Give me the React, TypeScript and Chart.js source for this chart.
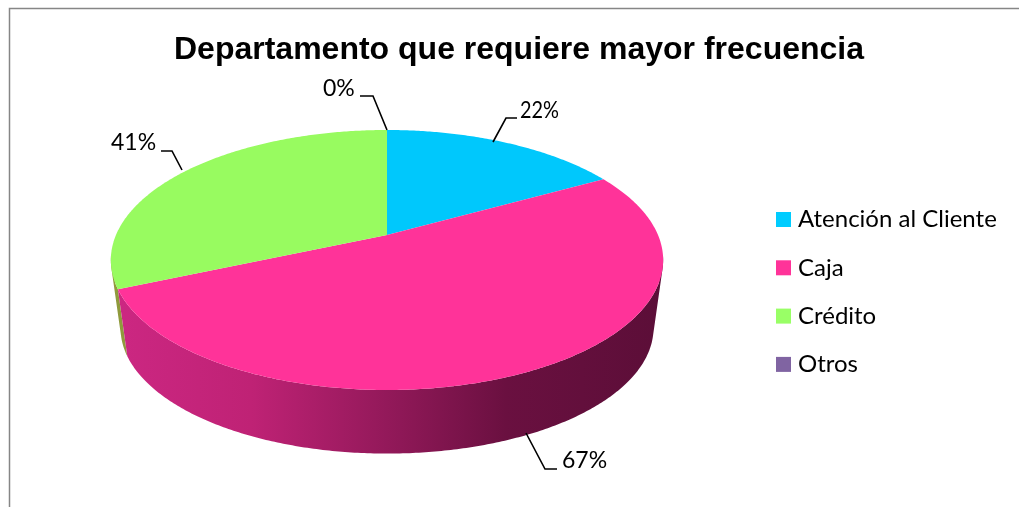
import React, { useEffect, useRef } from "react";
import { Chart, registerables, layouts } from "chart.js";

Chart.register(...registerables);

const categories = ["Atención al Cliente", "Caja", "Crédito", "Otros"];
const values = [22, 67, 41, 0];
const faceColors = ["#00C8FC", "#FF3399", "#98FB60", "#8064A2"];
const swatchColors = ["#00CCFF", "#FF3399", "#99FF66", "#8064A2"];
const sideStops: [number, string][][] = [
  [[0, "#006a88"], [1, "#006a88"]],
  [[0, "#cc2782"], [0.25, "#bf2275"], [0.5, "#93195a"], [0.72, "#6a1040"], [1, "#5c0e38"]],
  [[0, "#8f9a3c"], [1, "#8f9a3c"]],
  [[0, "#4a3a60"], [1, "#4a3a60"]],
];

// Leader lines for the value labels: polyline vertices, text anchor, fitted text width.
const leaders: { path: [number, number][]; text: [number, number]; fit: number }[] = [
  { path: [[493, 142], [506, 118], [517, 118]], text: [520, 111], fit: 39 },
  { path: [[526, 433], [545, 469], [557, 469]], text: [562, 461], fit: 46 },
  { path: [[182, 170], [172, 151], [161, 151]], text: [111, 143], fit: 46 },
  { path: [[387, 130], [373, 96], [360, 96]], text: [323, 89], fit: 33 },
];

const TEXT_FONT = "Lato";
const VALUE_SIZE = 23;
const LEGEND_SIZE = 24;
const LEGEND = { x: 776, firstY: 219.5, step: 48.3, box: 15, gap: 7 };

// Perspective tilt of the disc, as ratios of the arc element's radius.
const TILT = 0.1923;
const RX = 1.6365;
const RY = 0.756;
const DEPTH = 0.4167;
const BASE_SCALE = 0.965;
// Walls exist only on the near part of the rim, where they can be seen.
const NEAR_RIM = 0.15;

type Pt = [number, number];

function project(el: any, angle: number, base: boolean): Pt {
  const u = Math.cos(angle);
  const v = Math.sin(angle);
  const w = 1 - TILT * v;
  const s = base ? BASE_SCALE : 1;
  const r = el.outerRadius;
  return [
    el.x + (s * RX * r * u) / w,
    el.y + (base ? DEPTH * r : 0) + (s * RY * r * v) / w,
  ];
}

function angleSteps(el: any): number[] {
  const out: number[] = [];
  const n = Math.max(2, Math.ceil((el.endAngle - el.startAngle) / 0.01));
  for (let i = 0; i <= n; i++) {
    out.push(el.startAngle + ((el.endAngle - el.startAngle) * i) / n);
  }
  return out;
}

function addPolygon(ctx: CanvasRenderingContext2D, pts: Pt[]) {
  pts.forEach(([x, y], i) => (i ? ctx.lineTo(x, y) : ctx.moveTo(x, y)));
  ctx.closePath();
}

const tiltedPie = {
  id: "tiltedPie",
  beforeDatasetsDraw(chart: any) {
    const { ctx } = chart;
    const arcs = chart.getDatasetMeta(0).data;
    ctx.save();
    // Side walls first, one path of narrow quads per slice so the swept
    // outline stays convex; the top faces are painted over them.
    [2, 0, 1].forEach((i) => {
      const el = arcs[i];
      if (el.endAngle - el.startAngle <= 0) return;
      const left = el.x - RX * el.outerRadius;
      const right = el.x + RX * el.outerRadius;
      const grad = ctx.createLinearGradient(left, 0, right, 0);
      sideStops[i].forEach(([o, c]) => grad.addColorStop(o, c));
      ctx.fillStyle = grad;
      const near = angleSteps(el).filter((a) => Math.sin(a) >= NEAR_RIM);
      ctx.beginPath();
      for (let k = 0; k < near.length - 1; k++) {
        const quad: Pt[] = [
          project(el, near[k], false),
          project(el, near[k + 1], false),
          project(el, near[k + 1], true),
          project(el, near[k], true),
        ];
        // Keep every quad wound the same way so none cancels a neighbour.
        const area = quad.reduce((sum, p, j) => {
          const q = quad[(j + 1) % 4];
          return sum + p[0] * q[1] - q[0] * p[1];
        }, 0);
        addPolygon(ctx, area < 0 ? quad.reverse() : quad);
      }
      ctx.fill();
    });
    arcs.forEach((el: any, i: number) => {
      if (el.endAngle - el.startAngle <= 0) return;
      ctx.fillStyle = faceColors[i];
      ctx.beginPath();
      addPolygon(ctx, [[el.x, el.y], ...angleSteps(el).map((a) => project(el, a, false))]);
      ctx.fill();
    });
    ctx.restore();
    return false;
  },
};

const annotations = {
  id: "annotations",
  beforeDraw(chart: any) {
    const { ctx, width, height } = chart;
    ctx.save();
    ctx.fillStyle = "#ffffff";
    ctx.fillRect(0, 0, width, height);
    ctx.strokeStyle = "#868686";
    ctx.lineWidth = 1.5;
    ctx.beginPath();
    ctx.moveTo(9.5, height);
    ctx.lineTo(9.5, 8.5);
    ctx.lineTo(width, 8.5);
    ctx.stroke();
    ctx.restore();
  },
  afterDraw(chart: any) {
    const { ctx } = chart;
    ctx.save();
    ctx.textBaseline = "middle";
    ctx.textAlign = "left";
    // Value labels with their leader lines.
    ctx.font = `${VALUE_SIZE}px ${TEXT_FONT}`;
    leaders.forEach((l, i) => {
      ctx.strokeStyle = "#000000";
      ctx.lineWidth = 1.6;
      ctx.beginPath();
      l.path.forEach(([x, y], k) => (k ? ctx.lineTo(x, y) : ctx.moveTo(x, y)));
      ctx.stroke();
      ctx.fillStyle = "#000000";
      ctx.fillText(`${values[i]}%`, l.text[0], l.text[1], l.fit);
    });
    // Legend column beside the pie.
    ctx.font = `${LEGEND_SIZE}px ${TEXT_FONT}`;
    categories.forEach((name, i) => {
      const y = LEGEND.firstY + LEGEND.step * i;
      ctx.fillStyle = swatchColors[i];
      ctx.fillRect(LEGEND.x, y - LEGEND.box / 2, LEGEND.box, LEGEND.box);
      ctx.fillStyle = "#000000";
      ctx.fillText(name, LEGEND.x + LEGEND.box + LEGEND.gap, y);
    });
    ctx.restore();
  },
};

// Reserves the legend column to the right of the plot without moving the title.
const legendGutter = {
  id: "legendGutter",
  beforeInit(chart: any) {
    layouts.addBox(chart, {
      position: "right",
      weight: 1,
      fullSize: false,
      options: {},
      width: 264,
      height: 0,
      isHorizontal: () => false,
      update(this: any, _w: number, h: number) {
        this.width = 264;
        this.height = h;
      },
      draw() {},
    } as any);
  },
};

export default function App() {
  const ref = useRef<HTMLCanvasElement>(null);
  useEffect(() => {
    const chart = new Chart(ref.current!, {
      type: "pie",
      data: {
        labels: categories,
        datasets: [{ data: values, backgroundColor: faceColors, borderWidth: 0 }],
      },
      options: {
        animation: false,
        responsive: false,
        layout: { padding: { left: 19, right: 0, top: 0, bottom: 106.4 } },
        plugins: {
          legend: { display: false },
          tooltip: { enabled: false },
          title: {
            display: true,
            text: "Departamento que requiere mayor frecuencia",
            color: "#000000",
            font: { family: "Liberation Sans", size: 32, weight: "bold", lineHeight: 1.2 },
            padding: { top: 31, bottom: 0 },
          },
        },
      },
      plugins: [annotations, tiltedPie, legendGutter],
    } as any);
    return () => chart.destroy();
  }, []);
  return (
    <div style={{ position: "fixed", left: 0, top: 0 }}>
      <canvas ref={ref} width={1019} height={507} style={{ display: "block" }} />
    </div>
  );
}
